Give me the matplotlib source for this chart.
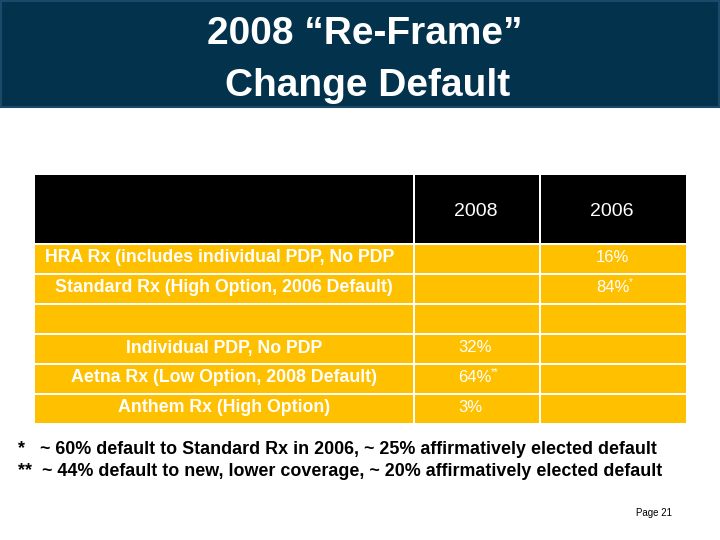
import matplotlib
matplotlib.use("Agg")
import matplotlib.pyplot as plt
from matplotlib.patches import Rectangle

title_lines = ["2008 \u201cRe-Frame\u201d", "Change Default"]
col_headers = ["", "2008", "2006"]
row_labels = ["HRA Rx (includes individual PDP, No PDP", "Standard Rx (High Option, 2006 Default)", "",
              "Individual PDP, No PDP", "Aetna Rx (Low Option, 2008 Default)", "Anthem Rx (High Option)"]
vals_2008 = ["", "", "", "32%", "64%", "3%"]
sup_2008 = ["", "", "", "", "**", ""]
vals_2006 = ["16%", "84%", "", "", "", ""]
sup_2006 = ["", "*", "", "", "", ""]
footnotes = ["*   ~ 60% default to Standard Rx in 2006, ~ 25% affirmatively elected default",
             "**  ~ 44% default to new, lower coverage, ~ 20% affirmatively elected default"]

W, H = 720, 540
fig = plt.figure(figsize=(7.2, 5.4), dpi=100)
ax = fig.add_axes([0, 0, 1, 1])
ax.set_xlim(0, W); ax.set_ylim(H, 0); ax.axis("off")
font = "Liberation Sans"

ax.add_patch(Rectangle((1, 1), W - 2, 106, facecolor="#03324C", edgecolor="#1a4a6a", lw=1.5))
ax.text(365, 34, title_lines[0], color="white", fontsize=28, fontweight="bold", ha="center", va="center", family=font)
ax.text(368, 86, title_lines[1], color="white", fontsize=28, fontweight="bold", ha="center", va="center", family=font)

xs = [35, 413, 539, 686]
ys = [175, 243, 273, 303, 333, 363, 393, 423]
gold = "#FFC000"
g = 1.5
for r in range(7):
    for c in range(3):
        fc = "black" if r == 0 else gold
        ax.add_patch(Rectangle((xs[c] + (g if c else 0), ys[r] + (g if r else 0)),
                               xs[c + 1] - xs[c] - (g if c else 0), ys[r + 1] - ys[r] - (g if r else 0),
                               facecolor=fc, edgecolor="none"))
ax.text(476, 212, col_headers[1], color="white", fontsize=14, ha="center", va="center", family=font)
ax.text(612, 212, col_headers[2], color="white", fontsize=14, ha="center", va="center", family=font)

for i, lab in enumerate(row_labels):
    yc = (ys[i + 1] + ys[i + 2]) / 2
    if lab:
        x = 45 if i == 0 else 224
        ax.text(x, yc, lab, color="white", fontsize=12.8, fontweight="bold",
                ha="left" if i == 0 else "center", va="center", family=font)
    if vals_2008[i]:
        ax.text(458, yc - 1, vals_2008[i], color="white", fontsize=12, ha="left", va="center", family=font)
        if sup_2008[i]:
            ax.text(491, yc - 6, sup_2008[i], color="white", fontsize=7, ha="left", va="center", family=font)
    if vals_2006[i]:
        ax.text(596, yc - 1, vals_2006[i], color="white", fontsize=12, ha="left", va="center", family=font)
        if sup_2006[i]:
            ax.text(629, yc - 6, sup_2006[i], color="white", fontsize=7, ha="left", va="center", family=font)

ax.text(18, 450, footnotes[0], fontsize=12.9, fontweight="bold", ha="left", va="center", family=font)
ax.text(18, 471, footnotes[1], fontsize=12.9, fontweight="bold", ha="left", va="center", family=font)
ax.text(636, 513, "Page 21", fontsize=7, ha="left", va="center", family=font)

fig.savefig("out.png", dpi=100)
